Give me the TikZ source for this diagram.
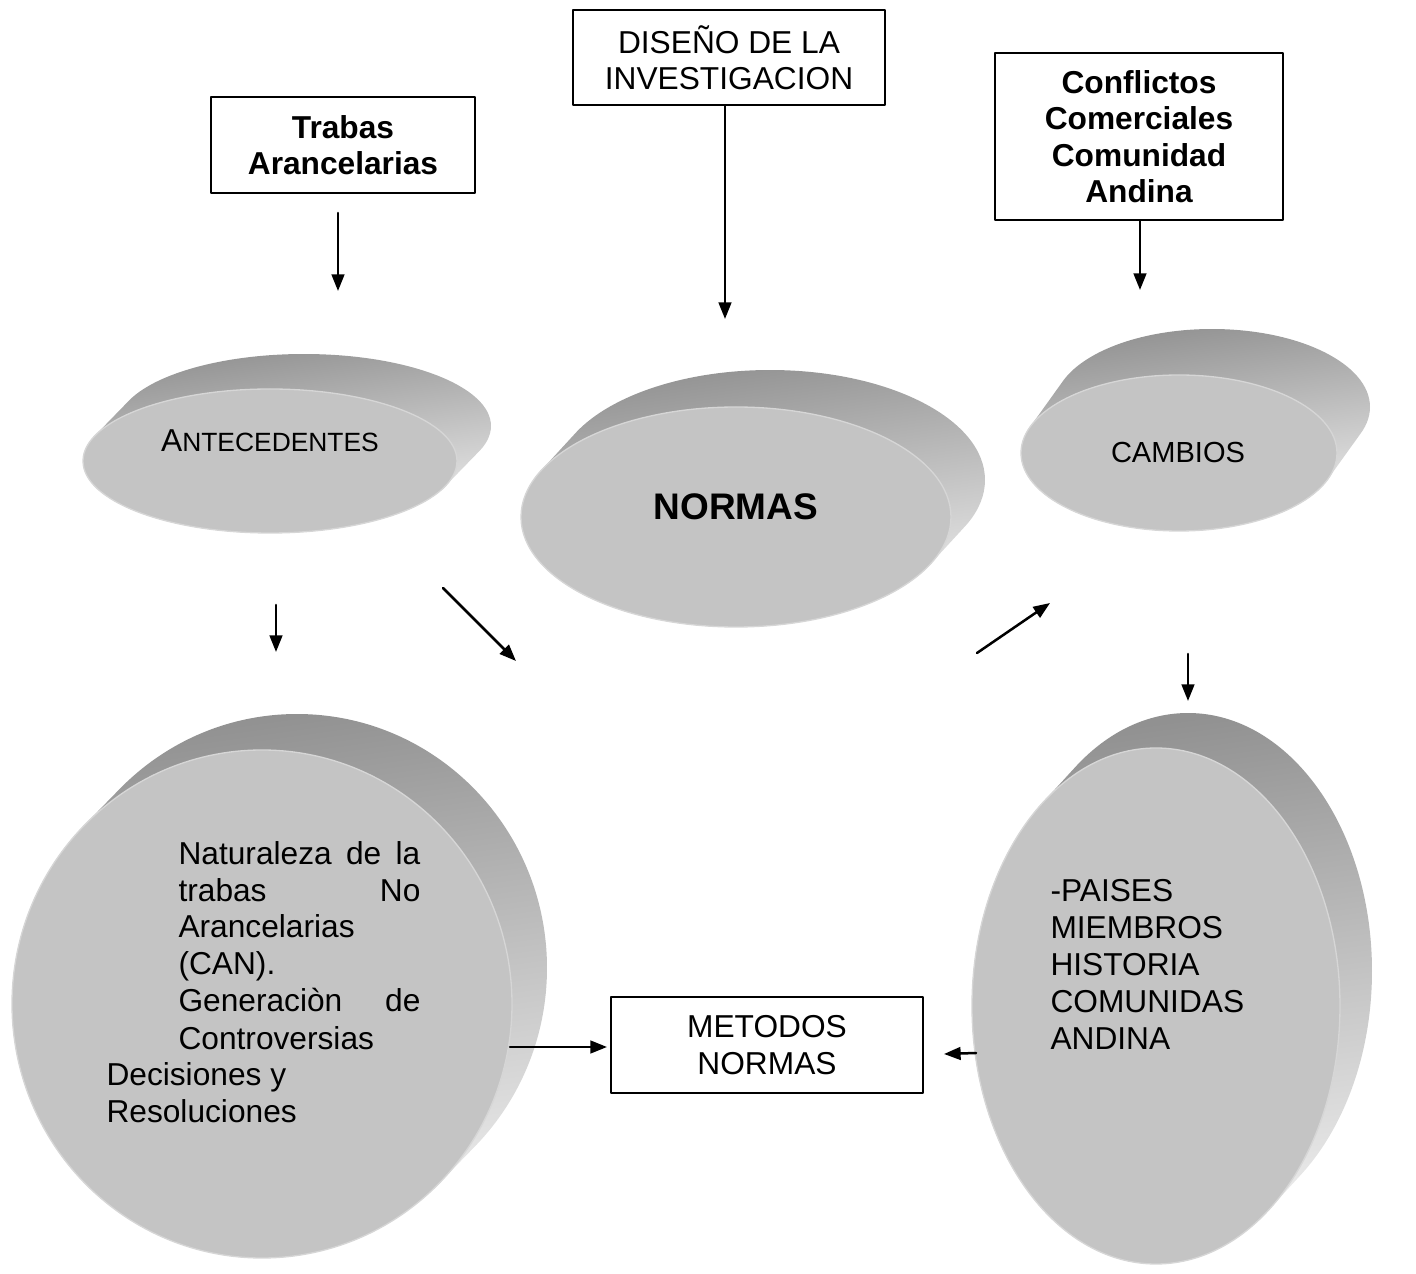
\documentclass[tikz,border=0pt]{standalone}
\usepackage{fontspec}
\setmainfont{Liberation Sans}
\usetikzlibrary{shapes.geometric,arrows.meta}
\definecolor{grisCara}{HTML}{C4C4C4}
\definecolor{grisFilo}{HTML}{D6D6D6}
\definecolor{grisOscuro}{HTML}{919191}
\definecolor{grisClaro}{HTML}{F2F2F2}
\tikzset{
  caja/.style={draw,line width=0.6pt,inner sep=0pt,align=center,font=\fontsize{12}{13.8}\selectfont},
  cajanegrita/.style={caja,font=\fontsize{12}{13.8}\selectfont\bfseries},
  texto/.style={inner sep=0pt,font=\fontsize{12}{13.8}\selectfont},
  flecha/.style={line width=0.95pt,-{Triangle[length=6.3pt,width=4.8pt]}},
  canto/.style={top color=grisOscuro,bottom color=grisClaro,shading angle=8},
  cara/.style={ellipse,fill=grisCara,draw=grisFilo,line width=0.5pt,inner sep=0pt}
}
% disco en relieve: nombre, cx, cy, rx, ry, dx, dy (hacia arriba)
\newcommand{\disco}[7]{%
  \shade[canto] \foreach \t in {0,0.04,...,1} {(#2+\t*#6,#3-\t*#7) ellipse [x radius=#4,y radius=#5]};
  \node[cara,minimum width={2*#4*0.3787pt},minimum height={2*#5*0.3787pt}] (#1) at (#2,#3) {};
}
\begin{document}
\begin{tikzpicture}[x=0.3787pt,y=-0.3787pt,line cap=round,line join=round]
  \useasboundingbox (0,0) rectangle (1416,1274);
  % discos
  \disco{antecedentes}{270}{461}{187}{72}{34}{35}
  \disco{normas}{736}{517}{215}{110}{34}{37}
  \disco{cambios}{1179}{453}{158}{78}{33}{46}
  \disco{naturaleza}{262}{1004}{250}{254}{35}{36}
  \disco{paises}{1156}{1006}{184}{258}{32}{35}
  % textos de los discos
  \node[texto] (antecedentestxt) at (270,441) {A{\fontsize{10}{12}\selectfont NTECEDENTES}};
  \node[texto,font=\fontsize{14}{16}\selectfont\bfseries] (normastxt) at (736,507) {NORMAS};
  \node[texto,font=\fontsize{11}{13}\selectfont] (cambiostxt) at (1178,453) {CAMBIOS};
  \foreach \y/\linea [count=\i] in {865/{\makebox[91.6pt][s]{Naturaleza de la}},
      902/{\makebox[91.6pt][s]{trabas No}}, 938/Arancelarias, 975/{(CAN).},
      1012/{\makebox[91.6pt][s]{Generaciòn de}}, 1049/Controversias}
    \node[texto,anchor=base west] (naturaleza\i) at (178,\y) {\linea};
  \node[texto,anchor=base west] (decisiones) at (106,1086) {Decisiones y};
  \node[texto,anchor=base west] (resoluciones) at (106,1123) {Resoluciones};
  \foreach \y/\linea [count=\i] in {902/-PAISES, 939/MIEMBROS, 976/HISTORIA, 1013/COMUNIDAS, 1050/ANDINA}
    \node[texto,anchor=base west] (paises\i) at (1050,\y) {\linea};
  % cajas
  \node[cajanegrita,minimum width=99.98pt,minimum height=36.36pt] (trabas) at (343,145) {Trabas\\Arancelarias};
  \node[caja,minimum width=118.15pt,minimum height=35.98pt] (diseno) at (729,57.5) {DISEÑO DE LA\\INVESTIGACION};
  \node[cajanegrita,minimum width=109.07pt,minimum height=63.24pt] (conflictos) at (1139,136.5) {Conflictos\\Comerciales\\Comunidad\\Andina};
  \node[caja,minimum width=118.15pt,minimum height=36.36pt] (metodos) at (767,1045) {METODOS\\NORMAS};
  % extremos de las flechas
  \coordinate (t1) at (338,213);  \coordinate (t2) at (338,291);
  \coordinate (d1) at (725,106);  \coordinate (d2) at (725,319);
  \coordinate (c1) at (1140,221); \coordinate (c2) at (1140,290);
  \coordinate (a1) at (276,605);  \coordinate (a2) at (276,652);
  \coordinate (a3) at (443,588);  \coordinate (a4) at (516,661);
  \coordinate (b1) at (977,653);  \coordinate (b2) at (1050,603);
  \coordinate (b3) at (1188,654); \coordinate (b4) at (1188,701);
  \coordinate (m1) at (510,1047); \coordinate (m2) at (607,1047);
  \coordinate (m3) at (976,1053); \coordinate (m4) at (944,1054);
  % flechas
  \draw[flecha] (t1) -- (t2);
  \draw[flecha] (d1) -- (d2);
  \draw[flecha] (c1) -- (c2);
  \draw[flecha] (a1) -- (a2);
  \draw[flecha] (a3) -- (a4);
  \draw[flecha] (b1) -- (b2);
  \draw[flecha] (b3) -- (b4);
  \draw[flecha] (m1) -- (m2);
  \draw[flecha] (m3) -- (m4);
\end{tikzpicture}
\end{document}
